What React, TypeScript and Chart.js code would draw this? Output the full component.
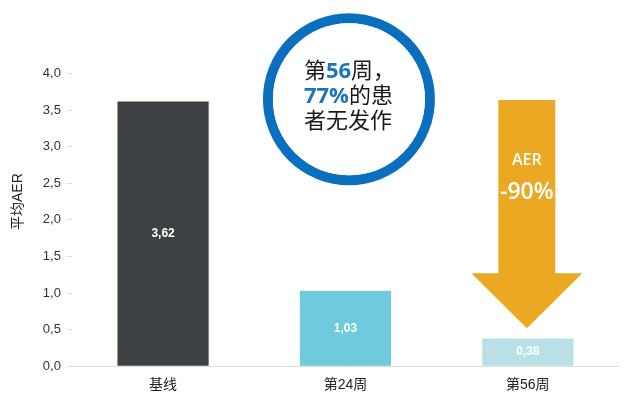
import React, { useEffect, useRef } from "react";
import { Chart, registerables } from "chart.js";

Chart.register(...registerables);

const categories = ["基线", "第24周", "第56周"];
const aerValues = [3.62, 1.03, 0.38];
const barColors = ["#3e4143", "#6fcadb", "#b8e1e6"];
const yTicks = [0, 0.5, 1, 1.5, 2, 2.5, 3, 3.5, 4];
const circleLines = [
  [{ t: "第", b: false }, { t: "56", b: true }, { t: "周，", b: false }],
  [{ t: "77%", b: true }, { t: "的患", b: false }],
  [{ t: "者无发作", b: false }],
];
const arrowTexts = ["AER", "-90%"];

const CJK = '"Liberation Sans", "Noto Sans CJK SC", sans-serif';

const overlayPlugin = {
  id: "overlay",
  afterDatasetsDraw(chart: any) {
    const ctx = chart.ctx as CanvasRenderingContext2D;
    const meta = chart.getDatasetMeta(0);
    const xs = chart.scales.x;
    const ys = chart.scales.y;
    ctx.save();
    // bar value labels
    ctx.fillStyle = "#ffffff";
    ctx.font = 'bold 12px "Liberation Sans", Arial, sans-serif';
    ctx.textAlign = "center";
    ctx.textBaseline = "middle";
    meta.data.forEach((bar: any, i: number) => {
      const txt = aerValues[i].toFixed(2).replace(".", ",");
      ctx.fillText(txt, bar.x, (bar.y + bar.base) / 2);
    });

    // arrow above last bar
    const ax = xs.getPixelForValue(2) - 1;
    const top = ys.getPixelForValue(3.64);
    const headBase = ys.getPixelForValue(1.27);
    const tip = ys.getPixelForValue(0.52);
    const shaftHalf = 28.5;
    const headHalf = 55.5;
    ctx.fillStyle = "#eba923";
    ctx.beginPath();
    ctx.moveTo(ax - shaftHalf, top);
    ctx.lineTo(ax + shaftHalf, top);
    ctx.lineTo(ax + shaftHalf, headBase);
    ctx.lineTo(ax + headHalf, headBase);
    ctx.lineTo(ax, tip);
    ctx.lineTo(ax - headHalf, headBase);
    ctx.lineTo(ax - shaftHalf, headBase);
    ctx.closePath();
    ctx.fill();
    ctx.fillStyle = "#ffffff";
    ctx.font = '600 16px "Open Sans", "Liberation Sans", sans-serif';
    ctx.fillText(arrowTexts[0], ax, ys.getPixelForValue(2.81));
    ctx.font = '600 23px "Open Sans", "Liberation Sans", sans-serif';
    ctx.fillText(arrowTexts[1], ax, ys.getPixelForValue(2.37));

    // circle
    const cx = xs.getPixelForValue(1) + 3.5;
    const cy = ys.getPixelForValue(3.65);
    ctx.beginPath();
    ctx.arc(cx, cy, 81, 0, Math.PI * 2);
    ctx.lineWidth = 10;
    ctx.strokeStyle = "#0b6fbf";
    ctx.stroke();
    ctx.fillStyle = "#ffffff";
    ctx.beginPath();
    ctx.arc(cx, cy, 76, 0, Math.PI * 2);
    ctx.fill();

    ctx.textAlign = "left";
    ctx.textBaseline = "middle";
    const left = cx - 45;
    circleLines.forEach((line, li) => {
      let x = left;
      const y = cy - 27 + li * 25;
      line.forEach((seg) => {
        ctx.font = (seg.b ? "bold " : "") + '22px "Open Sans", "Noto Sans CJK SC", sans-serif';
        ctx.fillStyle = seg.b ? "#1e74bb" : "#1a1a1a";
        ctx.fillText(seg.t, x, y);
        x += ctx.measureText(seg.t).width;
      });
    });
    ctx.restore();
  },
};

export default function App() {
  const ref = useRef<HTMLCanvasElement | null>(null);
  useEffect(() => {
    if (!ref.current) return;
    const chart = new Chart(ref.current, {
      type: "bar",
      data: {
        labels: categories,
        datasets: [
          {
            data: aerValues,
            backgroundColor: barColors,
            borderWidth: 0,
            barPercentage: 0.5,
            categoryPercentage: 1,
          },
        ],
      },
      options: {
        animation: false,
        responsive: true,
        maintainAspectRatio: false,
        layout: { padding: { left: 10, right: 5, top: 37, bottom: 12 } },
        plugins: { legend: { display: false }, tooltip: { enabled: false } },
        scales: {
          x: {
            grid: { display: false },
            border: { display: true, color: "#dddddd", width: 1 },
            ticks: {
              color: "#222222",
              padding: 3,
              font: { size: 14, family: CJK },
            },
          },
          y: {
            min: 0,
            max: 4.5,
            afterBuildTicks: (axis: any) => {
              axis.ticks = yTicks.map((v) => ({ value: v }));
            },
            grid: {
              display: true,
              drawOnChartArea: false,
              drawTicks: true,
              tickLength: 5,
              color: "#dddddd",
            },
            border: { display: false },
            ticks: {
              color: "#333333",
              padding: 6,
              font: { size: 13, family: '"Liberation Sans", Arial, sans-serif' },
              callback: (v: any) => Number(v).toFixed(1).replace(".", ","),
            },
            title: {
              display: true,
              text: "平均AER",
              color: "#222222",
              font: { size: 14, family: CJK },
              padding: { top: 0, bottom: 10 },
            },
          },
        },
      },
      plugins: [overlayPlugin],
    });
    return () => chart.destroy();
  }, []);
  return (
    <div style={{ position: "fixed", left: 0, top: 0, width: 624, height: 409, background: "#fff" }}>
      <canvas ref={ref} />
    </div>
  );
}
